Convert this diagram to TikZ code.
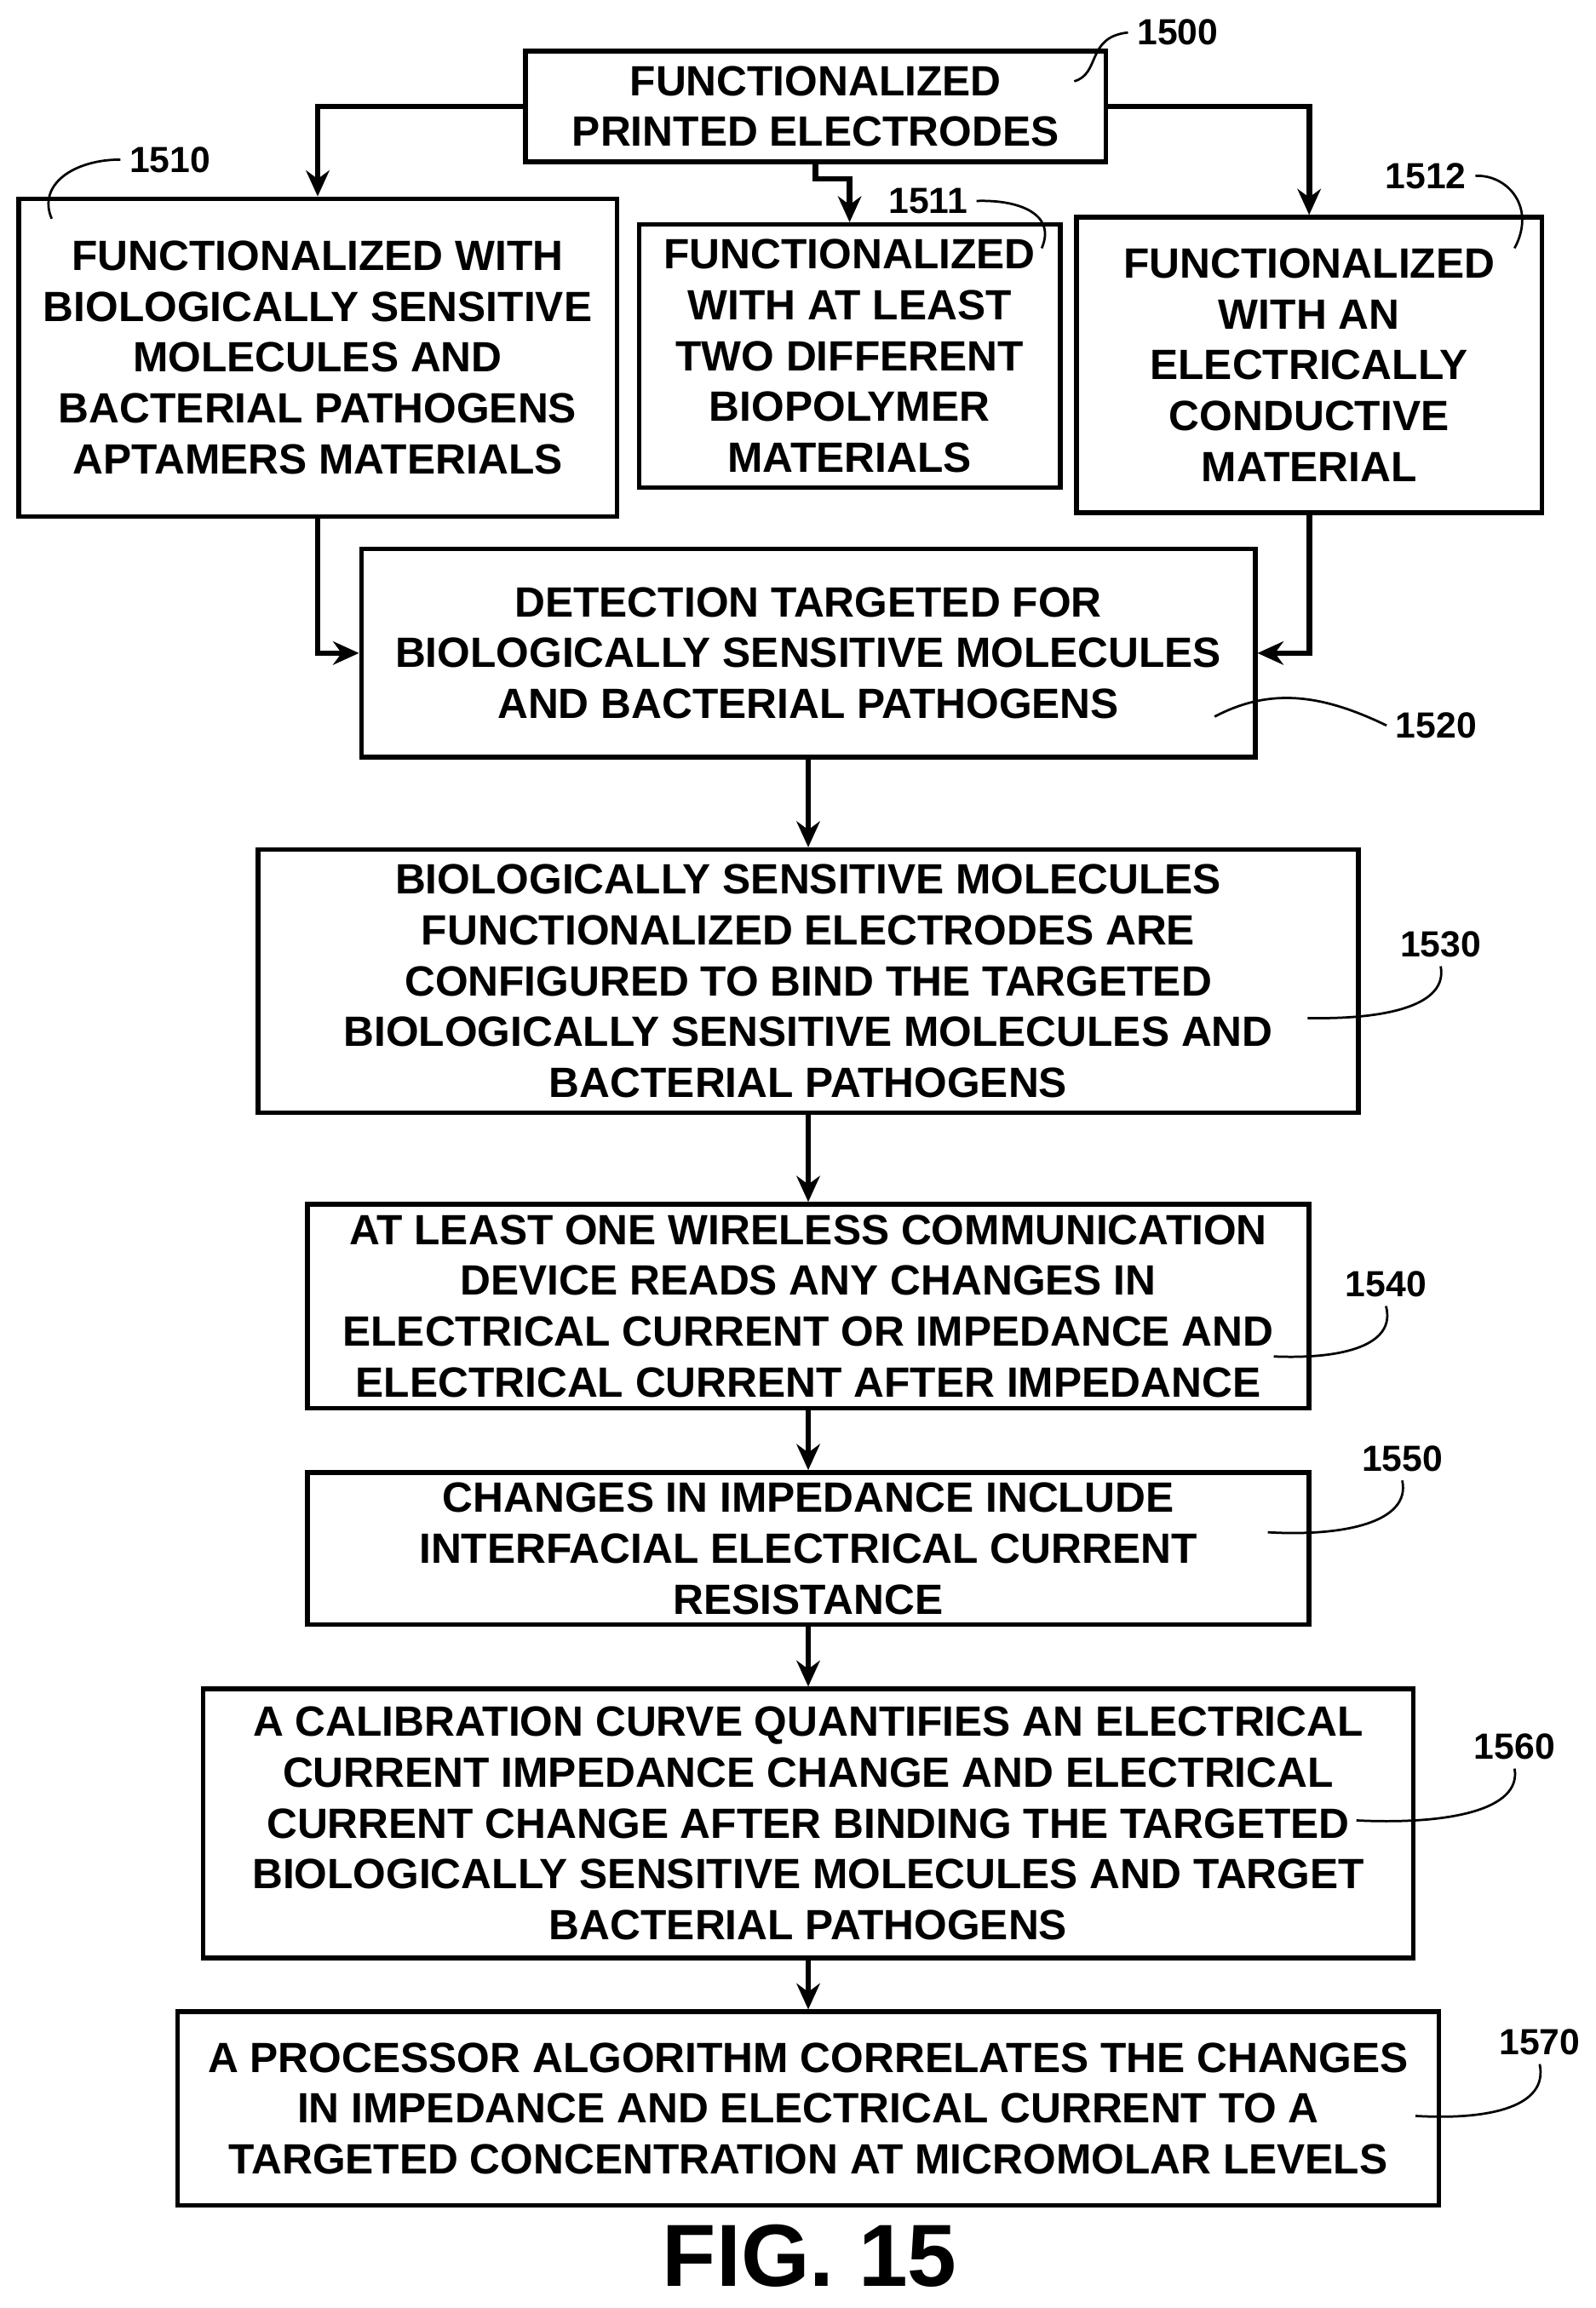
\documentclass[tikz,border=0pt]{standalone}
\usepackage{fontspec}
\setmainfont{Liberation Sans}
\usetikzlibrary{arrows.meta}
\begin{document}
\begin{tikzpicture}[x=0.02cm, y=-0.02cm,
  box/.style={draw, line width=1.8pt, align=center, inner sep=0pt,
    font=\bfseries\fontsize{16.3}{19.6}\selectfont},
  flow/.style={line width=2.2pt, -{Stealth[length=10pt,width=9pt]}},
  tag/.style={font=\bfseries\fontsize{14}{16}\selectfont},
  sq/.style={line width=0.9pt}]
  \useasboundingbox (0,0) rectangle (1080,1562);
  % Blocks
  \node[box, minimum width=7.86cm, minimum height=1.5cm] (n1500) at (552,72) {FUNCTIONALIZED\\PRINTED ELECTRODES};
  \node[box, minimum width=8.1cm, minimum height=4.3cm] (n1510) at (215,242) {FUNCTIONALIZED WITH\\BIOLOGICALLY SENSITIVE\\MOLECULES AND\\BACTERIAL PATHOGENS\\APTAMERS MATERIALS};
  \node[box, minimum width=5.7cm, minimum height=3.56cm] (n1511) at (575,241) {FUNCTIONALIZED\\WITH AT LEAST\\TWO DIFFERENT\\BIOPOLYMER\\MATERIALS};
  \node[box, minimum width=6.3cm, minimum height=4cm] (n1512) at (886,247) {FUNCTIONALIZED\\WITH AN\\ELECTRICALLY\\CONDUCTIVE\\MATERIAL};
  \node[box, minimum width=12.1cm, minimum height=2.82cm] (n1520) at (547,442) {DETECTION TARGETED FOR\\BIOLOGICALLY SENSITIVE MOLECULES\\AND BACTERIAL PATHOGENS};
  \node[box, minimum width=14.9cm, minimum height=3.56cm] (n1530) at (547,664) {BIOLOGICALLY SENSITIVE MOLECULES\\FUNCTIONALIZED ELECTRODES ARE\\CONFIGURED TO BIND THE TARGETED\\BIOLOGICALLY SENSITIVE MOLECULES AND\\BACTERIAL PATHOGENS};
  \node[box, minimum width=13.56cm, minimum height=2.76cm] (n1540) at (547,884) {AT LEAST ONE WIRELESS COMMUNICATION\\DEVICE READS ANY CHANGES IN\\ELECTRICAL CURRENT OR IMPEDANCE AND\\ELECTRICAL CURRENT AFTER IMPEDANCE};
  \node[box, minimum width=13.56cm, minimum height=2.06cm] (n1550) at (547,1048) {CHANGES IN IMPEDANCE INCLUDE\\INTERFACIAL ELECTRICAL CURRENT\\RESISTANCE};
  \node[box, minimum width=16.38cm, minimum height=3.64cm] (n1560) at (547,1234) {A CALIBRATION CURVE QUANTIFIES AN ELECTRICAL\\CURRENT IMPEDANCE CHANGE AND ELECTRICAL\\CURRENT CHANGE AFTER BINDING THE TARGETED\\BIOLOGICALLY SENSITIVE MOLECULES AND TARGET\\BACTERIAL PATHOGENS};
  \node[box, minimum width=17.08cm, minimum height=2.62cm] (n1570) at (547,1427) {A PROCESSOR ALGORITHM CORRELATES THE CHANGES\\IN IMPEDANCE AND ELECTRICAL CURRENT TO A\\TARGETED CONCENTRATION AT MICROMOLAR LEVELS};
  \node[font=\bfseries\fontsize{34}{36}\selectfont] (fig) at (548,1527) {FIG. 15};
  % Connectors
  \draw[flow] (n1500.west) -| (n1510.north);
  \draw[flow] (n1500.east) -| (n1512.north);
  \draw[flow] (n1500.south) -- ++(0,10) -| (n1511.north);
  \draw[flow] (n1510.south) |- (n1520.west);
  \draw[flow] (n1512.south) |- (n1520.east);
  \draw[flow] (n1520) -- (n1530);
  \draw[flow] (n1530) -- (n1540);
  \draw[flow] (n1540) -- (n1550);
  \draw[flow] (n1550) -- (n1560);
  \draw[flow] (n1560) -- (n1570);
  % Reference numerals
  \node[tag] (t1500) at (797,22) {1500};
  \draw[sq] (727,55) .. controls (745,50) and (735,25) .. (t1500.west);
  \node[tag] (t1510) at (115,108) {1510};
  \draw[sq] (35,148) .. controls (25,125) and (50,108) .. (t1510.west);
  \node[tag] (t1511) at (628,136) {1511};
  \draw[sq] (705,168) .. controls (715,145) and (690,135) .. (t1511.east);
  \node[tag] (t1512) at (965,119) {1512};
  \draw[sq] (1025,168) .. controls (1040,140) and (1020,118) .. (t1512.east);
  \node[tag] (t1520) at (972,491) {1520};
  \draw[sq] (822,485) .. controls (860,465) and (895,470) .. (t1520.west);
  \node[tag] (t1530) at (975,639) {1530};
  \draw[sq] (885,689) .. controls (940,690) and (980,680) .. (t1530.south);
  \node[tag] (t1540) at (938,869) {1540};
  \draw[sq] (862,918) .. controls (910,920) and (945,910) .. (t1540.south);
  \node[tag] (t1550) at (949,987) {1550};
  \draw[sq] (858,1037) .. controls (910,1040) and (955,1030) .. (t1550.south);
  \node[tag] (t1560) at (1025,1182) {1560};
  \draw[sq] (918,1232) .. controls (980,1235) and (1030,1225) .. (t1560.south);
  \node[tag] (t1570) at (1042,1382) {1570};
  \draw[sq] (958,1432) .. controls (1010,1435) and (1048,1425) .. (t1570.south);
\end{tikzpicture}
\end{document}
